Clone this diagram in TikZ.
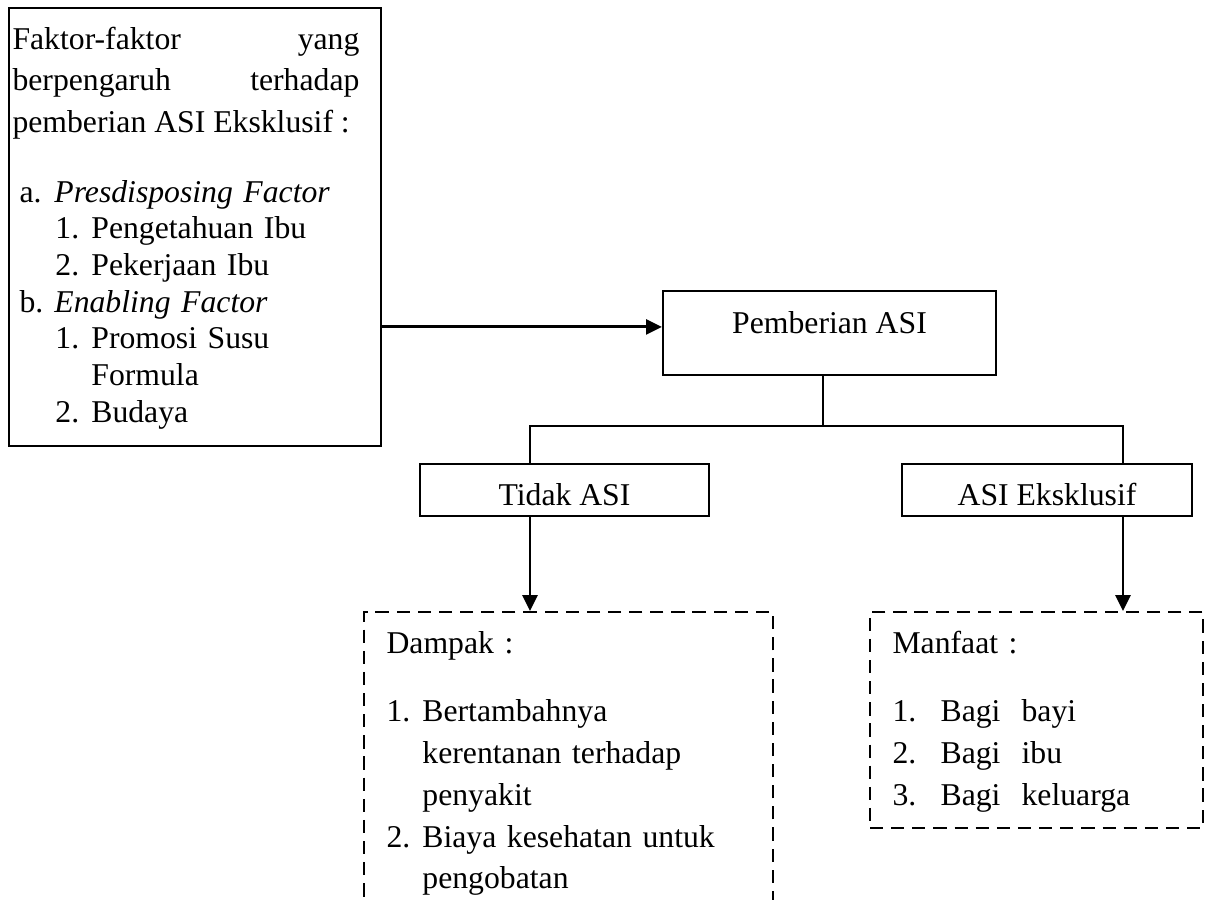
\documentclass[tikz,border=0pt]{standalone}
\usepackage{fontspec}
\setmainfont{Liberation Serif}
\usetikzlibrary{positioning, arrows.meta, calc}
\newlength{\px}
\setlength{\px}{0.3785pt}
\hyphenpenalty=10000
\exhyphenpenalty=10000

\begin{document}
\begin{tikzpicture}[x=0.3785pt, y=-0.3785pt,
    font=\fontsize{12}{14.4}\selectfont,
    box/.style={draw, line width=0.75pt, inner sep=0pt},
    dashbox/.style={draw, line width=0.75pt, dash pattern=on 5pt off 3pt},
    flow/.style={-{Triangle[length=6pt,width=5.6pt]}, line width=1.1pt},
    link/.style={line width=0.7pt},
    txt/.style={inner sep=0pt, anchor=base west, align=left, font=\fontsize{12}{15.8}\selectfont}]

    \useasboundingbox (0,0) rectangle (1212,899);
    \clip (0,0) rectangle (1212,899);

    % faktor
    \node[box, minimum width=372*\px, minimum height=438*\px] (factors) at (195,227) {};
    \node[txt, text width=131.3pt, align=justify] (intro) at (12,49)
        {Faktor-faktor yang\linebreak berpengaruh terhadap\linebreak pemberian ASI Eksklusif :};
    \node[txt, text width=150pt, font=\fontsize{12}{13.9}\selectfont] (faclist) at (19,202)
        {\makebox[13.2pt][l]{a.}\textit{Presdisposing Factor}\\
         \hspace*{13.6pt}\makebox[13.6pt][l]{1.}Pengetahuan Ibu\\
         \hspace*{13.6pt}\makebox[13.6pt][l]{2.}Pekerjaan Ibu\\
         \makebox[13.2pt][l]{b.}\textit{Enabling Factor}\\
         \hspace*{13.6pt}\makebox[13.6pt][l]{1.}Promosi Susu\\
         \hspace*{27.2pt}Formula\\
         \hspace*{13.6pt}\makebox[13.6pt][l]{2.}Budaya};

    % pemberian
    \node[box, minimum width=333*\px, minimum height=84*\px, text depth=8.3pt] (pemberian) at (829.5,333) {Pemberian ASI};
    \node[box, minimum width=289*\px, minimum height=52*\px, text height=11.4pt, text depth=0pt] (tidak) at (564.5,490) {Tidak ASI};
    \node[box, minimum width=290*\px, minimum height=52*\px, text height=11.4pt, text depth=0pt] (eksklusif) at (1047,490) {ASI Eksklusif};

    % dampak / manfaat
    \node[dashbox, minimum width=409*\px, minimum height=348*\px] (dampak) at (568.5,786) {};
    \node[dashbox, minimum width=333*\px, minimum height=216*\px] (manfaat) at (1036.5,720) {};
    \node[txt, text width=145pt] (dampaktxt) at (386,653)
        {Dampak :\\[10.3pt]
         \makebox[13.6pt][l]{1.}Bertambahnya\\
         \hspace*{13.6pt}kerentanan terhadap\\
         \hspace*{13.6pt}penyakit\\
         \makebox[13.6pt][l]{2.}Biaya kesehatan untuk\\
         \hspace*{13.6pt}pengobatan};
    \node[txt, text width=115pt] (manfaattxt) at (892,653)
        {Manfaat :\\[10.3pt]
         \makebox[18.2pt][l]{1.}Bagi\ \ bayi\\
         \makebox[18.2pt][l]{2.}Bagi\ \ ibu\\
         \makebox[18.2pt][l]{3.}Bagi\ \ keluarga};

    \coordinate (split) at (823,426);
    \coordinate (brL) at (530,426);
    \coordinate (brR) at (1123,426);
    \coordinate (inlet) at ([yshift=2.3pt]pemberian.west);

    \draw[link] (split |- pemberian.south) -- (split);
    \draw[link] (tidak.north -| brL) |- (brR) -- (eksklusif.north -| brR);

    \path[flow]
    (factors.east |- inlet) edge (inlet)
    (tidak.south -| brL) edge (dampak.north -| brL)
    (eksklusif.south -| brR) edge (manfaat.north -| brR)
    ;
\end{tikzpicture}
\end{document}
